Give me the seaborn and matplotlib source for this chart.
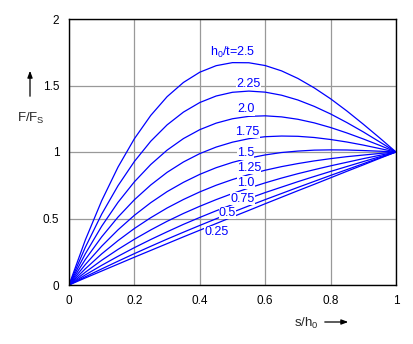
import matplotlib
matplotlib.use("Agg")
import matplotlib.pyplot as plt
import seaborn as sns
import pandas as pd

# s/h0 positions
s_h0 = [0.0, 0.05, 0.1, 0.15, 0.2, 0.25, 0.3, 0.35, 0.4, 0.45, 0.5,
        0.55, 0.6, 0.65, 0.7, 0.75, 0.8, 0.85, 0.9, 0.95, 1.0]

# F/Fs curves for each h0/t value
f_025 = [0, 0.053, 0.105, 0.157, 0.209, 0.260, 0.311, 0.362, 0.412, 0.462, 0.512,
         0.561, 0.611, 0.660, 0.709, 0.757, 0.806, 0.855, 0.903, 0.952, 1.0]
f_050 = [0, 0.062, 0.121, 0.179, 0.236, 0.291, 0.345, 0.397, 0.448, 0.498, 0.547,
         0.595, 0.642, 0.688, 0.734, 0.779, 0.824, 0.868, 0.912, 0.956, 1.0]
f_075 = [0, 0.076, 0.148, 0.216, 0.281, 0.342, 0.400, 0.456, 0.508, 0.558, 0.605,
         0.651, 0.695, 0.736, 0.777, 0.816, 0.854, 0.891, 0.928, 0.964, 1.0]
f_100 = [0, 0.096, 0.186, 0.268, 0.344, 0.414, 0.479, 0.538, 0.592, 0.642, 0.688,
         0.729, 0.768, 0.804, 0.837, 0.867, 0.896, 0.923, 0.950, 0.975, 1.0]
f_125 = [0, 0.122, 0.234, 0.334, 0.425, 0.506, 0.579, 0.643, 0.700, 0.750, 0.793,
         0.830, 0.863, 0.890, 0.913, 0.933, 0.950, 0.965, 0.977, 0.989, 1.0]
f_150 = [0, 0.154, 0.292, 0.415, 0.524, 0.619, 0.702, 0.772, 0.832, 0.882, 0.922,
         0.954, 0.978, 0.996, 1.007, 1.014, 1.016, 1.015, 1.011, 1.006, 1.0]
f_175 = [0, 0.192, 0.362, 0.511, 0.641, 0.752, 0.847, 0.925, 0.988, 1.037, 1.074,
         1.100, 1.115, 1.120, 1.118, 1.109, 1.094, 1.075, 1.052, 1.026, 1.0]
f_200 = [0, 0.235, 0.442, 0.622, 0.776, 0.906, 1.014, 1.101, 1.168, 1.217, 1.250,
         1.268, 1.272, 1.264, 1.246, 1.219, 1.184, 1.143, 1.098, 1.050, 1.0]
f_225 = [0, 0.284, 0.533, 0.747, 0.929, 1.081, 1.204, 1.300, 1.372, 1.421, 1.449,
         1.458, 1.450, 1.427, 1.391, 1.343, 1.286, 1.221, 1.151, 1.076, 1.0]
f_250 = [0, 0.339, 0.634, 0.887, 1.100, 1.275, 1.416, 1.523, 1.600, 1.649, 1.672,
         1.671, 1.650, 1.610, 1.553, 1.482, 1.400, 1.308, 1.209, 1.106, 1.0]

h_ratios = ["0.25", "0.5", "0.75", "1.0", "1.25", "1.5", "1.75", "2.0", "2.25", "2.5"]
curves = [f_025, f_050, f_075, f_100, f_125, f_150, f_175, f_200, f_225, f_250]
labels = ["0.25", "0.5", "0.75", "1.0", "1.25", "1.5", "1.75", "2.0", "2.25", "h$_0$/t=2.5"]
label_x = [0.45, 0.485, 0.53, 0.54, 0.55, 0.54, 0.545, 0.54, 0.55, 0.50]
label_y = [0.40, 0.54, 0.65, 0.77, 0.88, 0.99, 1.15, 1.32, 1.51, 1.75]

x_ticks = [0, 0.2, 0.4, 0.6, 0.8, 1]
x_ticklabels = ["0", "0.2", "0.4", "0.6", "0.8", "1"]
y_ticks = [0, 0.5, 1, 1.5, 2]
y_ticklabels = ["0", "0.5", "1", "1.5", "2"]

rows = []
for h, ys in zip(h_ratios, curves):
    for x, y in zip(s_h0, ys):
        rows.append({"s": x, "F": y, "h": h})
df = pd.DataFrame(rows)

sns.set_style("white")
plt.rcParams["font.family"] = ["Liberation Sans", "DejaVu Sans"]
plt.rcParams["mathtext.fontset"] = "custom"
plt.rcParams["mathtext.rm"] = "Liberation Sans"
plt.rcParams["mathtext.it"] = "Liberation Sans"

fig = plt.figure(figsize=(4.13, 3.44), dpi=100)
ax = fig.add_axes([69 / 413, 1 - 285 / 344, 327 / 413, 266 / 344])

sns.lineplot(data=df, x="s", y="F", hue="h", palette=["#0000ff"] * len(h_ratios),
             legend=False, ax=ax, linewidth=0.9, estimator=None, sort=False, zorder=2)

for lab, lx, ly in zip(labels, label_x, label_y):
    ax.text(lx, ly, lab, color="#0000ff", fontsize=9, ha="center", va="center", zorder=4,
            bbox=dict(facecolor="white", edgecolor="none", pad=0.2))

ax.set_xlim(0, 1)
ax.set_ylim(0, 2)
ax.set_xticks(x_ticks)
ax.set_xticklabels(x_ticklabels)
ax.set_yticks(y_ticks)
ax.set_yticklabels(y_ticklabels)
ax.grid(True, color="#999999", linewidth=0.9, zorder=1)
ax.set_axisbelow(True)
for sp in ax.spines.values():
    sp.set_color("black")
    sp.set_linewidth(1.0)
ax.tick_params(axis="both", labelsize=8.5, colors="black", length=3, width=0.8, direction="out",
               pad=4)
ax.set_xlabel("")
ax.set_ylabel("")

# y-axis label with upward arrow
fig.text(31 / 413, 1 - 118 / 344, "F/F$_\\mathrm{S}$", fontsize=9.5, ha="center", va="center")
fig.add_artist(matplotlib.patches.FancyArrowPatch(
    (30 / 413, 1 - 99 / 344), (30 / 413, 1 - 68 / 344), transform=fig.transFigure,
    arrowstyle="-|>,head_length=4,head_width=1.5", color="black", linewidth=0.9))

# x-axis label with rightward arrow
fig.text(306 / 413, 1 - 323 / 344, "s/h$_0$", fontsize=9.5, ha="center", va="center")
fig.add_artist(matplotlib.patches.FancyArrowPatch(
    (322 / 413, 1 - 322 / 344), (351 / 413, 1 - 322 / 344), transform=fig.transFigure,
    arrowstyle="-|>,head_length=4,head_width=1.5", color="black", linewidth=0.9))

fig.savefig("out.png", dpi=100, facecolor="white")
